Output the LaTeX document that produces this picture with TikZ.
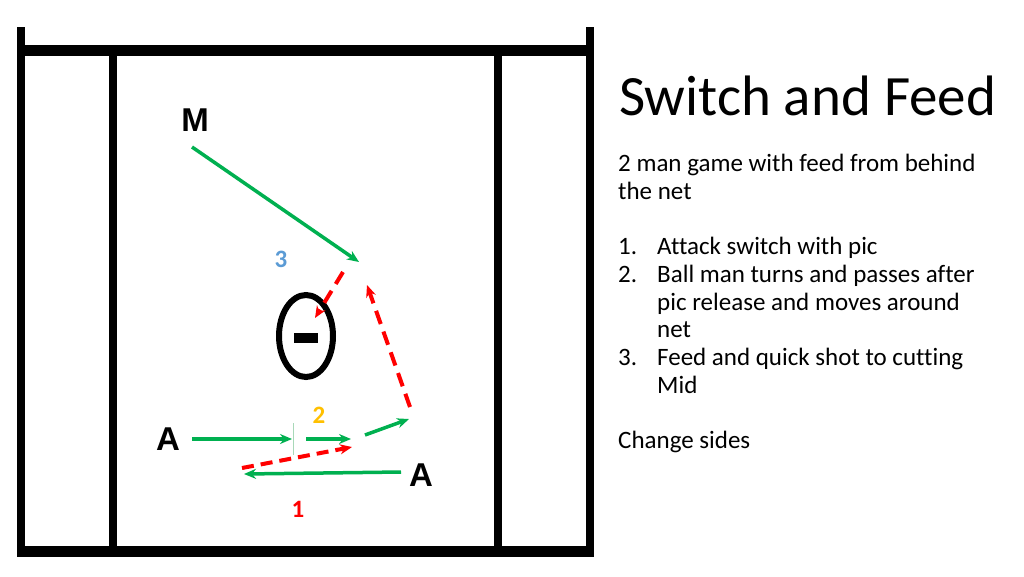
\documentclass[tikz,border=0pt]{standalone}
\usepackage{fontspec}
\setmainfont{Carlito}[Ligatures=NoCommon]
\newfontfamily\plfont{Liberation Sans}
\usetikzlibrary{arrows.meta}
\definecolor{pgreen}{HTML}{00B050}
\definecolor{pred}{HTML}{FF0000}
\definecolor{pblue}{HTML}{5B9BD5}
\definecolor{pgold}{HTML}{FFC000}
\definecolor{pale}{HTML}{A8D8B8}
\begin{document}
\begin{tikzpicture}[x=1pt,y=-1pt,
  frame/.style={line width=8pt,line cap=butt},
  bar/.style={line width=11pt,line cap=butt},
  player/.style={inner sep=0pt,font=\plfont\bfseries\fontsize{33}{36}\selectfont},
  num/.style={inner sep=0pt,font=\bfseries\fontsize{25}{28}\selectfont},
  run/.style={pgreen,line width=3.5pt,-{Stealth[length=12pt,width=10pt]}},
  pass/.style={pred,line width=4pt,dash pattern=on 14pt off 8pt,-{Stealth[length=12pt,width=10pt]}},
  title/.style={inner sep=0pt,anchor=base west,font=\fontsize{57}{60}\selectfont},
  body/.style={inner sep=0pt,anchor=base west,font=\fontsize{25}{28}\selectfont}]
\useasboundingbox (0,0) rectangle (1024,576);
\fill[white] (0,0) rectangle (1024,576);
% field frame
\draw[frame] (21,27) -- (21,556.5);
\draw[frame] (590,27) -- (590,556.5);
\draw[frame] (113,50) -- (113,551);
\draw[frame] (498,50) -- (498,551);
\draw[bar] (17,50) -- (594,50);
\draw[bar] (17,551) -- (594,551);
% goal
\draw[line width=6pt] (306,336) ellipse [x radius=27, y radius=41];
\fill (294,333) rectangle (318,343);
% players
\node[player] (m) at (195,120) {M};
\node[player] (a1) at (168,439) {A};
\node[player] (a2) at (421,475) {A};
% numbers
\node[num,text=pblue] (n3) at (281,259) {3};
\node[num,text=pgold] (n2) at (319,415) {2};
\node[num,text=pred] (n1) at (298,509) {1};
% path coordinates
\coordinate (mS) at (192,147);
\coordinate (mE) at (359,262);
\coordinate (p3S) at (343,272);
\coordinate (p3E) at (315,318);
\coordinate (p2S) at (410,407);
\coordinate (p2E) at (367,285);
\coordinate (r1S) at (192,439);
\coordinate (r1E) at (292,439);
\coordinate (r2S) at (306,439);
\coordinate (r2E) at (351,439);
\coordinate (r3S) at (365,435);
\coordinate (r3E) at (409,419);
\coordinate (pbS) at (242,468);
\coordinate (pbE) at (352,447);
\coordinate (r4S) at (401,472);
\coordinate (r4E) at (244,474);
\coordinate (picT) at (293,423);
\coordinate (picB) at (293,455);
% runs and passes
\draw[run] (mS) -- (mE);
\draw[pass] (p3S) -- (p3E);
\draw[pass] (p2S) -- (p2E);
\draw[run] (r1S) -- (r1E);
\draw[pale,line width=1pt] (picT) -- (picB);
\draw[run] (r2S) -- (r2E);
\draw[run] (r3S) -- (r3E);
\draw[pass,dash pattern=on 12pt off 7pt] (pbS) -- (pbE);
\draw[run] (r4S) -- (r4E);
% text
\node[title] (t) at (619,115) {Switch and Feed};
\node[body] (b1) at (618,171) {2 man game with feed from behind};
\node[body] (b2) at (618,199) {the net};
\node[body] (l1n) at (618,254) {1.};
\node[body] (l1) at (657,254) {Attack switch with pic};
\node[body] (l2n) at (618,282) {2.};
\node[body] (l2) at (657,282) {Ball man turns and passes after};
\node[body] (l2b) at (657,310) {pic release and moves around};
\node[body] (l2c) at (657,337) {net};
\node[body] (l3n) at (618,365) {3.};
\node[body] (l3) at (657,365) {Feed and quick shot to cutting};
\node[body] (l3b) at (657,393) {Mid};
\node[body] (cs) at (618,448) {Change sides};
\end{tikzpicture}
\end{document}
